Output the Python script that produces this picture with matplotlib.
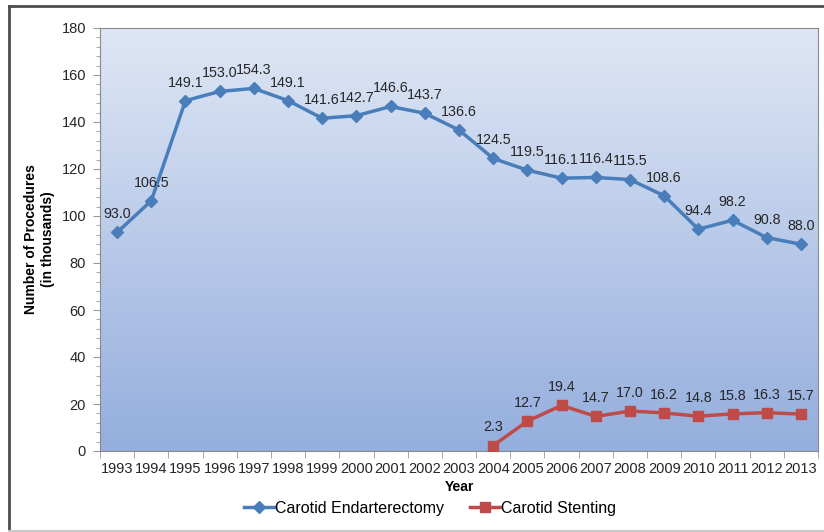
import numpy as np
import matplotlib.pyplot as plt
from matplotlib.lines import Line2D

plt.rcParams['font.family'] = ['Liberation Sans', 'DejaVu Sans']

years = [str(y) for y in range(1993, 2014)]
cea = [93.0, 106.5, 149.1, 153.0, 154.3, 149.1, 141.6, 142.7, 146.6, 143.7, 136.6,
       124.5, 119.5, 116.1, 116.4, 115.5, 108.6, 94.4, 98.2, 90.8, 88.0]
cas_years = years[11:]
cas = [2.3, 12.7, 19.4, 14.7, 17.0, 16.2, 14.8, 15.8, 16.3, 15.7]

blue = '#4a7ebb'
red = '#be4b48'

fig = plt.figure(figsize=(8.24, 5.32), dpi=100)
ax = fig.add_axes([100 / 824, 81 / 532, 718 / 824, 423 / 532])

# gradient background
grad = np.linspace(0, 1, 256).reshape(-1, 1)
top = np.array([223, 231, 245]) / 255
bot = np.array([148, 174, 221]) / 255
img = top + (bot - top) * grad[:, :, None]
ax.imshow(img, extent=[0, 1, 0, 1], transform=ax.transAxes, aspect='auto', zorder=0)

x = np.arange(len(years))
xc = np.arange(11, len(years))
ax.plot(x, cea, color=blue, lw=2.5, marker='D', ms=6, zorder=3)
ax.plot(xc, cas, color=red, lw=2.5, marker='s', ms=6.5, zorder=3)

for xi, v in zip(x, cea):
    ax.annotate(f'{v:.1f}', (xi, v), xytext=(0, 8), textcoords='offset points',
                ha='center', va='bottom', fontsize=10.3, color='#262626')
for xi, v in zip(xc, cas):
    ax.annotate(f'{v:.1f}', (xi, v), xytext=(0, 8), textcoords='offset points',
                ha='center', va='bottom', fontsize=10.3, color='#262626')

ax.set_xlim(-0.5, len(years) - 0.5)
ax.set_ylim(0, 180)
ax.set_yticks(range(0, 181, 20))
ax.set_yticks(range(0, 181, 4), minor=True)
ax.set_xticks(x)
ax.set_xticklabels(years)
ax.set_xticks(np.arange(-0.5, len(years), 1), minor=True)
ax.tick_params(axis='x', which='major', length=0, pad=8, labelsize=10.5, labelcolor='#262626')
ax.tick_params(axis='x', which='minor', length=5, color='#999999', direction='out')
ax.tick_params(axis='y', which='major', length=5, color='#999999', labelsize=10.5,
               labelcolor='#262626', pad=5)
ax.tick_params(axis='y', which='minor', length=3, color='#999999')

for s in ax.spines.values():
    s.set_color('#8a8a8a')
    s.set_linewidth(0.8)

ax.set_xlabel('Year', fontsize=10, fontweight='bold', labelpad=3)
ax.set_ylabel('Number of Procedures\n(in thousands)', fontsize=10, fontweight='bold', labelpad=5)

handles = [Line2D([], [], color=blue, lw=2.5, marker='D', ms=6),
           Line2D([], [], color=red, lw=2.5, marker='s', ms=6.5)]
fig.legend(handles, ['Carotid Endarterectomy', 'Carotid Stenting'], loc='center',
           bbox_to_anchor=(0.522, 24 / 532), ncol=2, frameon=False, fontsize=11.5,
           handlelength=1.9, handletextpad=0.05, columnspacing=1.6)

# outer frame
fig.add_artist(Line2D([9 / 824, 1], [1 - 6 / 532, 1 - 6 / 532], color='#4d4d4d', lw=2,
                      transform=fig.transFigure))
fig.add_artist(Line2D([9 / 824, 9 / 824], [1 / 532, 1 - 6 / 532], color='#4d4d4d', lw=2,
                      transform=fig.transFigure))
fig.add_artist(Line2D([9 / 824, 1], [1 / 532, 1 / 532], color='#c8c8c8', lw=1.5,
                      transform=fig.transFigure))

fig.savefig('out.png', dpi=100)
